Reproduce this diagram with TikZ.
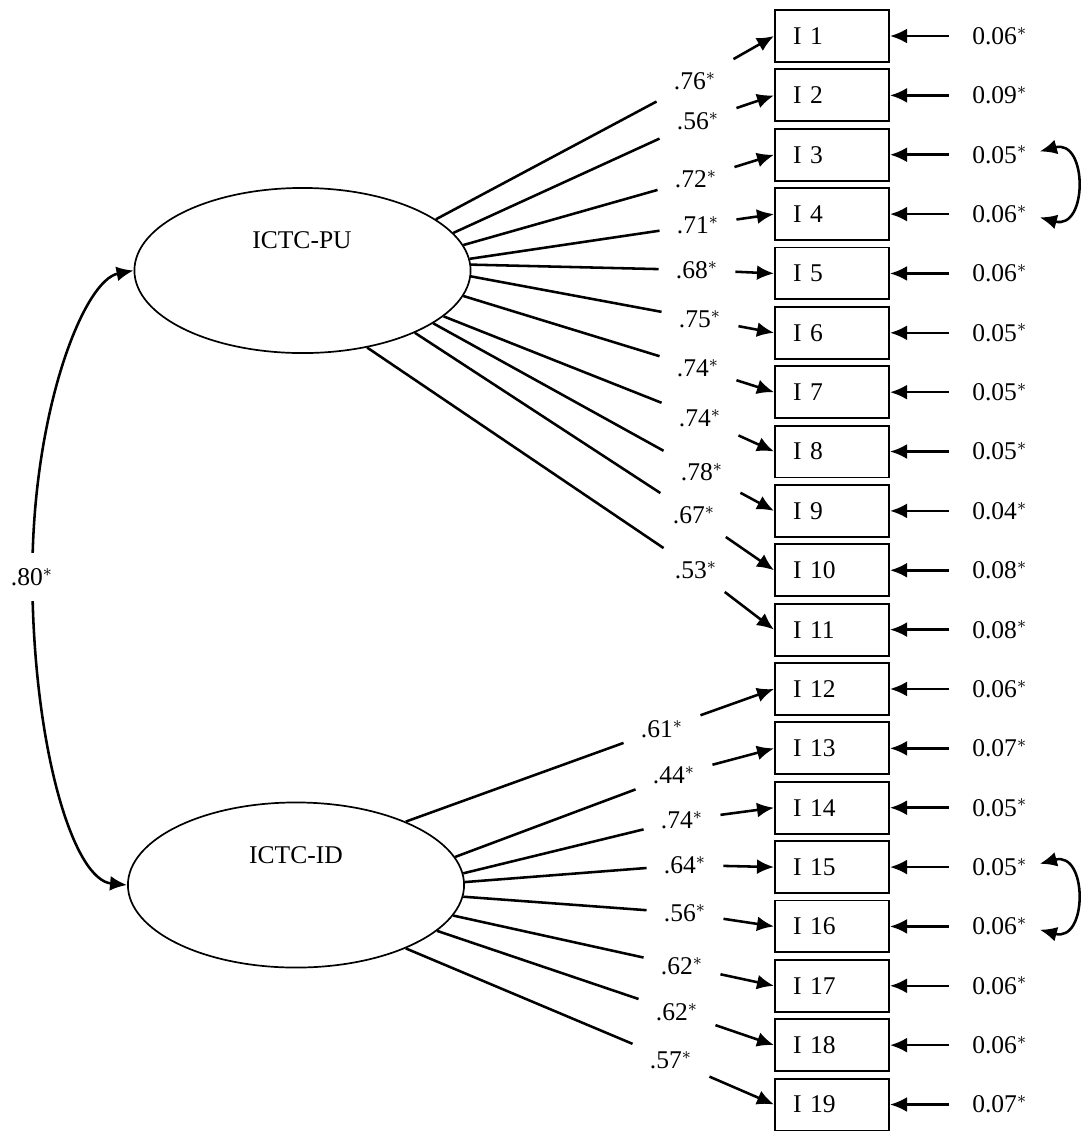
\documentclass[tikz,border=0pt]{standalone}
\usepackage{fontspec}
\setmainfont{Liberation Serif}
\usepackage{tikz}
\usetikzlibrary{shapes,arrows.meta,positioning,calc}

\begin{document}
\begin{tikzpicture}[
    x=0.47pt, y=-0.47pt,
    font=\fontsize{12}{14}\selectfont,
    latent/.style={ellipse, draw=black, line width=0.8pt, minimum width=158pt, minimum height=77.6pt, inner sep=0pt},
    item/.style={rectangle, draw=black, line width=0.9pt, minimum width=53.6pt, minimum height=24.4pt, text width=36.6pt, inner xsep=8.5pt, align=left},
    resid/.style={inner sep=0pt},
    loadlab/.style={inner xsep=8pt, inner ysep=6pt},
    loadline/.style={line width=1.2pt},
    arrowline/.style={line width=1.2pt, -{Latex[length=8pt, width=7pt]}},
    errline/.style={arrowline, shorten <=10.8pt},
    covline/.style={line width=1.2pt, {Latex[length=8pt, width=7pt]}-{Latex[length=8pt, width=7pt]}, shorten <=6pt, shorten >=6pt}
]
\useasboundingbox (0,0) rectangle (1081,1131);

% Latent factors
\node (pu) [latent] at (302.5,270.5) {};
\node (putxt) at (302,240) {ICTC-PU};
\node (id) [latent] at (296,885) {};
\node (idtxt) at (296,855) {ICTC-ID};

% Items
\node (i1) [item] at (832,36) {I 1};
\node (i2) [item, below=2.6pt of i1] {I 2};
\node (i3) [item, below=2.6pt of i2] {I 3};
\node (i4) [item, below=2.6pt of i3] {I 4};
\node (i5) [item, below=2.6pt of i4] {I 5};
\node (i6) [item, below=2.6pt of i5] {I 6};
\node (i7) [item, below=2.6pt of i6] {I 7};
\node (i8) [item, below=2.6pt of i7] {I 8};
\node (i9) [item, below=2.6pt of i8] {I 9};
\node (i10) [item, below=2.6pt of i9] {I 10};
\node (i11) [item, below=2.6pt of i10] {I 11};
\node (i12) [item, below=2.6pt of i11] {I 12};
\node (i13) [item, below=2.6pt of i12] {I 13};
\node (i14) [item, below=2.6pt of i13] {I 14};
\node (i15) [item, below=2.6pt of i14] {I 15};
\node (i16) [item, below=2.6pt of i15] {I 16};
\node (i17) [item, below=2.6pt of i16] {I 17};
\node (i18) [item, below=2.6pt of i17] {I 18};
\node (i19) [item, below=2.6pt of i18] {I 19};

% Error variances
\node (e1) [resid, right=38.5pt of i1] {0.06$^*$};
\node (e2) [resid, right=38.5pt of i2] {0.09$^*$};
\node (e3) [resid, right=38.5pt of i3] {0.05$^*$};
\node (e4) [resid, right=38.5pt of i4] {0.06$^*$};
\node (e5) [resid, right=38.5pt of i5] {0.06$^*$};
\node (e6) [resid, right=38.5pt of i6] {0.05$^*$};
\node (e7) [resid, right=38.5pt of i7] {0.05$^*$};
\node (e8) [resid, right=38.5pt of i8] {0.05$^*$};
\node (e9) [resid, right=38.5pt of i9] {0.04$^*$};
\node (e10) [resid, right=38.5pt of i10] {0.08$^*$};
\node (e11) [resid, right=38.5pt of i11] {0.08$^*$};
\node (e12) [resid, right=38.5pt of i12] {0.06$^*$};
\node (e13) [resid, right=38.5pt of i13] {0.07$^*$};
\node (e14) [resid, right=38.5pt of i14] {0.05$^*$};
\node (e15) [resid, right=38.5pt of i15] {0.05$^*$};
\node (e16) [resid, right=38.5pt of i16] {0.06$^*$};
\node (e17) [resid, right=38.5pt of i17] {0.06$^*$};
\node (e18) [resid, right=38.5pt of i18] {0.06$^*$};
\node (e19) [resid, right=38.5pt of i19] {0.07$^*$};

\draw [errline] (e1) -- (i1);
\draw [errline] (e2) -- (i2);
\draw [errline] (e3) -- (i3);
\draw [errline] (e4) -- (i4);
\draw [errline] (e5) -- (i5);
\draw [errline] (e6) -- (i6);
\draw [errline] (e7) -- (i7);
\draw [errline] (e8) -- (i8);
\draw [errline] (e9) -- (i9);
\draw [errline] (e10) -- (i10);
\draw [errline] (e11) -- (i11);
\draw [errline] (e12) -- (i12);
\draw [errline] (e13) -- (i13);
\draw [errline] (e14) -- (i14);
\draw [errline] (e15) -- (i15);
\draw [errline] (e16) -- (i16);
\draw [errline] (e17) -- (i17);
\draw [errline] (e18) -- (i18);
\draw [errline] (e19) -- (i19);

% Correlated errors
\draw [covline] (e3.east) to[out=15, in=-15, looseness=2.7] (e4.east);
\draw [covline] (e15.east) to[out=15, in=-15, looseness=2.7] (e16.east);

% Loadings of ICTC-PU
\node (l1) [loadlab] at (695,81) {.76$^*$};
\node (l2) [loadlab] at (698,121) {.56$^*$};
\node (l3) [loadlab] at (696,179) {.72$^*$};
\node (l4) [loadlab] at (698,225) {.71$^*$};
\node (l5) [loadlab] at (697,270) {.68$^*$};
\node (l6) [loadlab] at (700,319) {.75$^*$};
\node (l7) [loadlab] at (698,368) {.74$^*$};
\node (l8) [loadlab] at (700,418) {.74$^*$};
\node (l9) [loadlab] at (702,472) {.78$^*$};
\node (l10) [loadlab] at (694,515) {.67$^*$};
\node (l11) [loadlab] at (696,570) {.53$^*$};

\draw [loadline] (pu.21) -- (l1);
\draw [loadline] (pu.14.3) -- (l2);
\draw [loadline] (pu.9.5) -- (l3);
\draw [loadline] (pu.4.9) -- (l4);
\draw [loadline] (pu.2.5) -- (l5);
\draw [loadline] (pu.-2.9) -- (l6);
\draw [loadline] (pu.-9.4) -- (l7);
\draw [loadline] (pu.-18.2) -- (l8);
\draw [loadline] (pu.-22.7) -- (l9);
\draw [loadline] (pu.-29.9) -- (l10);
\draw [loadline] (pu.-50.7) -- (l11);

\draw [arrowline] (l1) -- (i1.west);
\draw [arrowline] (l2) -- (i2.west);
\draw [arrowline] (l3) -- (i3.west);
\draw [arrowline] (l4) -- (i4.west);
\draw [arrowline] (l5) -- (i5.west);
\draw [arrowline] (l6) -- (i6.west);
\draw [arrowline] (l7) -- (i7.west);
\draw [arrowline] (l8) -- (i8.west);
\draw [arrowline] (l9) -- (i9.west);
\draw [arrowline] (l10) -- (i10.west);
\draw [arrowline] (l11) -- (i11.west);

% Loadings of ICTC-ID
\node (l12) [loadlab] at (662,729) {.61$^*$};
\node (l13) [loadlab] at (674,775) {.44$^*$};
\node (l14) [loadlab] at (682,820) {.74$^*$};
\node (l15) [loadlab] at (685,865) {.64$^*$};
\node (l16) [loadlab] at (685,913) {.56$^*$};
\node (l17) [loadlab] at (682,966) {.62$^*$};
\node (l18) [loadlab] at (677,1012) {.62$^*$};
\node (l19) [loadlab] at (671,1060) {.57$^*$};

\draw [loadline] (id.30.3) -- (l12);
\draw [loadline] (id.10.6) -- (l13);
\draw [loadline] (id.4.5) -- (l14);
\draw [loadline] (id.1) -- (l15);
\draw [loadline] (id.-4.4) -- (l16);
\draw [loadline] (id.-11.2) -- (l17);
\draw [loadline] (id.-18.7) -- (l18);
\draw [loadline] (id.-30.8) -- (l19);

\draw [arrowline] (l12) -- (i12.west);
\draw [arrowline] (l13) -- (i13.west);
\draw [arrowline] (l14) -- (i14.west);
\draw [arrowline] (l15) -- (i15.west);
\draw [arrowline] (l16) -- (i16.west);
\draw [arrowline] (l17) -- (i17.west);
\draw [arrowline] (l18) -- (i18.west);
\draw [arrowline] (l19) -- (i19.west);

% Factor correlation
\node (r80) [loadlab, inner ysep=7pt] at (32,577) {.80$^*$};
\draw [arrowline] (r80) .. controls (37,400) and (85,280) .. (pu.west);
\draw [arrowline] (r80) .. controls (37,760) and (75,880) .. (id.west);

\end{tikzpicture}
\end{document}
